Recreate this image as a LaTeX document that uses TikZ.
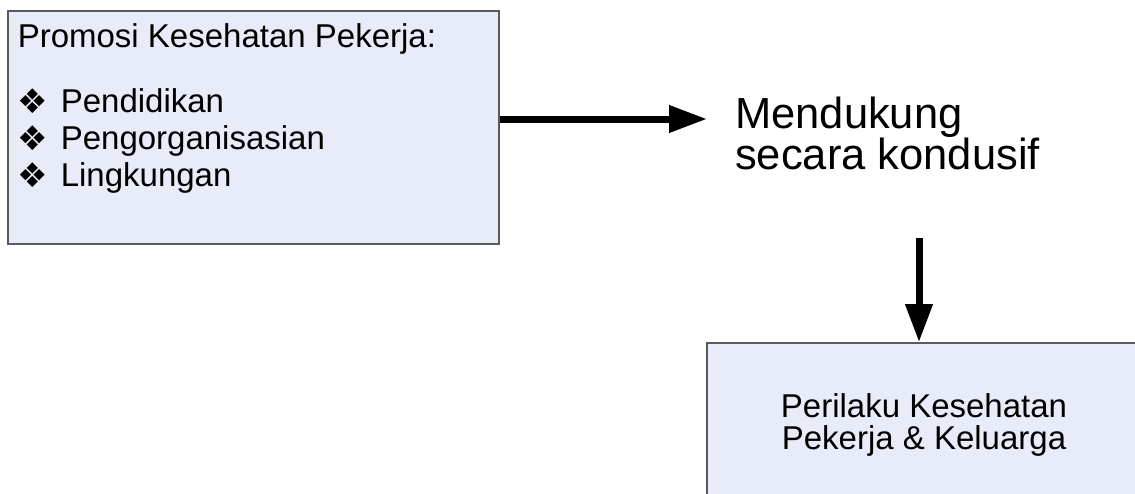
\documentclass[tikz,border=0pt]{standalone}
\usepackage{fontspec}
\setmainfont{Liberation Sans}
\newfontfamily\symfont{DejaVu Sans}
\usetikzlibrary{arrows.meta}
\definecolor{boxfill}{HTML}{E8ECF8}
\definecolor{boxline}{HTML}{5A5A5A}
% bullet with a fixed hanging width
\newcommand{\diabullet}{\makebox[43pt][l]{\raisebox{-1pt}{\symfont\fontsize{34}{34}\selectfont ❖}}}

\begin{document}
\begin{tikzpicture}[x=1pt,y=-1pt,
  panel/.style={draw=boxline, line width=1.6pt, fill=boxfill, inner sep=0pt},
  thickarrow/.style={line width=7pt, -{Triangle[length=38pt,width=26pt]}},
]
\useasboundingbox (0,0) rectangle (1135,493);
\clip (0,0) rectangle (1135,493);

% list of health promotion measures
\node[panel, anchor=north west, inner xsep=10pt] (promo) at (7,10)
  {\parbox[t][233pt][t]{471pt}{\fontsize{33}{37}\selectfont
    \rule{0pt}{37pt}Promosi Kesehatan Pekerja:\par
    \vspace{27.5pt}
    \diabullet Pendidikan\par
    \diabullet Pengorganisasian\par
    \diabullet Lingkungan}};

% intermediate statement
\node[anchor=base west, inner sep=0pt] (mend) at (735,128)
  {\parbox[t]{340pt}{\fontsize{43.5}{41}\selectfont
    Mendukung\\secara kondusif}};

% outcome box, running past the page edge
\node[panel, minimum width=434pt, minimum height=163pt, align=center,
      font=\fontsize{33}{32}\selectfont] (result) at (924,424.5)
  {Perilaku Kesehatan\\Pekerja \& Keluarga};

% connectors
\coordinate (tip1) at (707,119);
\draw[thickarrow] (promo.east |- tip1) -- (tip1);
\coordinate (tail2) at (919,238);
\draw[thickarrow] (tail2) -- (tail2 |- result.north);
\end{tikzpicture}
\end{document}
